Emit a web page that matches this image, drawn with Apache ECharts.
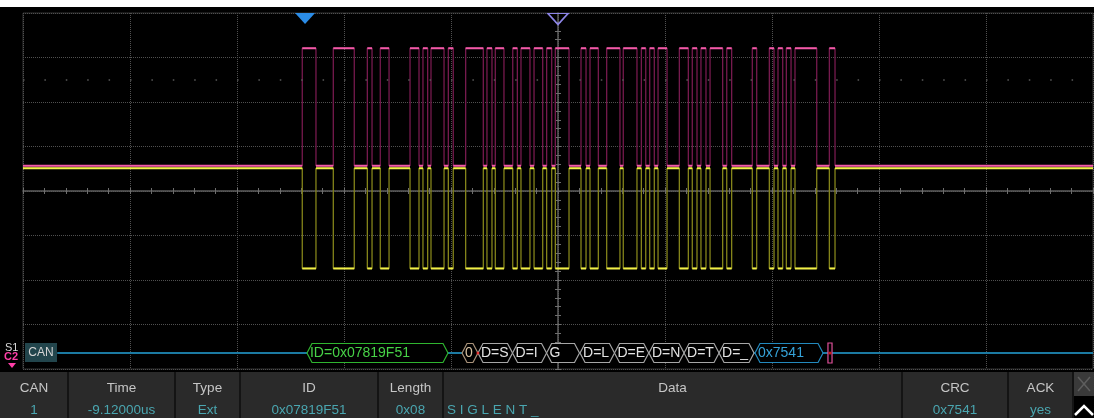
<!DOCTYPE html>
<html>
<head>
<meta charset="utf-8">
<script src="https://cdn.jsdelivr.net/npm/echarts@6/dist/echarts.min.js"></script>
<style>
html,body{margin:0;padding:0;background:#000;}
#c{width:1094px;height:418px;}
</style>
</head>
<body>
<div id="c"></div>
<script>
// ---- Data (time in horizontal divisions, trigger at 0; amplitude in vertical divisions) ----
const domStart = [-2.390,-2.100,-1.782,-1.661,-1.383,-1.262,-1.187,-1.025,-0.863,-0.664,-0.586,-0.423,-0.346,-0.224,-0.106,-0.025,0.215,0.299,0.455,0.610,0.779,0.857,0.935,1.134,1.255,1.336,1.421,1.577,1.816,1.975,2.056,2.134,2.215,2.536];
const domEnd   = [-2.262,-1.904,-1.738,-1.579,-1.299,-1.218,-1.065,-0.979,-0.698,-0.617,-0.505,-0.380,-0.262,-0.143,-0.059,0.103,0.262,0.377,0.579,0.738,0.820,0.900,1.019,1.218,1.299,1.383,1.539,1.623,1.857,2.019,2.100,2.178,2.418,2.589];
const pinkLevels   = [0.57, 3.21];   // recessive, dominant (C2)
const yellowLevels = [0.51, -1.74];  // recessive, dominant (C1)

const decodeLevel = -3.64;
const decodeLineStart = -4.68;
const packetStart = [-2.346,-0.897,-0.748,-0.425,-0.107,0.206,0.528,0.850,1.178,1.505,1.841];
const packetEnd   = [-1.028,-0.748,-0.425,-0.107,0.201,0.528,0.848,1.178,1.505,1.832,2.477];
const packetText  = ['ID=0x07819F51','0x08','D=S','D=I','G','D=L','D=E','D=N','D=T','D=_','0x7541'];
const packetKind  = ['id','dlc','data','data','data','data','data','data','data','data','crc'];
const ackSlot = [2.523, 2.561];
const errorDots = [-0.748, 2.542];

const triggerMarkers = [-2.364, 0];

const tableHeaders = ['CAN','Time','Type','ID','Length','Data','CRC','ACK'];
const tableValues  = ['1','-9.12000us','Ext','0x07819F51','0x08','S I G L E N T _','0x7541','yes'];

// ---- Build ----
function stepData(rec, dom){
  const p=[[-5,rec]];
  for(let i=0;i<domStart.length;i++){
    p.push([domStart[i],rec],[domStart[i],dom],[domEnd[i],dom],[domEnd[i],rec]);
  }
  p.push([5,rec]);
  return p;
}
function flatData(rec, dom){
  const p=[[-5,rec]];
  for(let i=0;i<domStart.length;i++){
    p.push([domStart[i],rec],[domStart[i],'-'],[domStart[i],dom],[domEnd[i],dom],[domEnd[i],'-'],[domEnd[i],rec]);
  }
  p.push([5,rec]);
  return p;
}
const kindStyle = {
  id:  {stroke:'#2fb52f', text:'#47d247'},
  dlc: {stroke:'#a8927a', text:'#d8c2a2'},
  data:{stroke:'#a6a6a6', text:'#e2e2e2'},
  crc: {stroke:'#2389bd', text:'#35a2d8'}
};
const FONT = '"Liberation Sans", Arial, sans-serif';

const chart = echarts.init(document.getElementById('c'), null, {renderer:'canvas'});

const colEdges = [0,68,175,240,378,443,902,1008,1073];
const graphics = [
  {type:'rect', shape:{x:0,y:0,width:1094,height:7}, style:{fill:'#ffffff'}, z:100},
  {type:'rect', shape:{x:0,y:372,width:1094,height:46}, style:{fill:'#2a2a2a'}, z:100},
];
for(let i=1;i<colEdges.length;i++){
  graphics.push({type:'rect', shape:{x:colEdges[i]-1,y:372,width:2,height:46}, style:{fill:'#141414'}, z:101});
}
for(let i=0;i<tableHeaders.length;i++){
  const cx=(colEdges[i]+colEdges[i+1])/2;
  graphics.push({type:'text', x:cx, y:388, style:{text:tableHeaders[i], fill:'#c6c6c6', font:'13.5px '+FONT, align:'center', verticalAlign:'middle'}, z:102});
  if(tableHeaders[i]==='Data'){
    graphics.push({type:'text', x:447, y:410, style:{text:tableValues[i], fill:'#4aa6b0', font:'13.5px '+FONT, align:'left', verticalAlign:'middle'}, z:102});
  } else {
    graphics.push({type:'text', x:cx, y:410, style:{text:tableValues[i], fill:'#4aa6b0', font:'13.5px '+FONT, align:'center', verticalAlign:'middle'}, z:102});
  }
}
graphics.push(
  {type:'rect', shape:{x:1074,y:372,width:20,height:24}, style:{fill:'#3a3a3a'}, z:102},
  {type:'line', shape:{x1:1078,y1:377,x2:1090,y2:391}, style:{stroke:'#5e5e5e', lineWidth:1.5}, z:103},
  {type:'line', shape:{x1:1090,y1:377,x2:1078,y2:391}, style:{stroke:'#5e5e5e', lineWidth:1.5}, z:103},
  {type:'rect', shape:{x:1074,y:396,width:20,height:22}, style:{fill:'#000'}, z:102},
  {type:'polyline', shape:{points:[[1075,415],[1084,406],[1093,415]]}, style:{stroke:'#ffffff', lineWidth:2.5, fill:null}, z:103},
  {type:'text', x:5, y:348, style:{text:'S1', fill:'#d8d8d8', font:'11px '+FONT, verticalAlign:'middle'}, z:103},
  {type:'text', x:4, y:357, style:{text:'C2', fill:'#ff3fa8', font:'bold 11px '+FONT, verticalAlign:'middle'}, z:104},
  {type:'polygon', shape:{points:[[8,363],[16,363],[12,368]]}, style:{fill:'#ff3fa8'}, z:104},
  {type:'rect', shape:{x:25,y:343,width:32,height:19}, style:{fill:'#22454c'}, z:103},
  {type:'text', x:41, y:352.5, style:{text:'CAN', fill:'#d4d4d4', font:'12px '+FONT, align:'center', verticalAlign:'middle'}, z:104}
);

const option = {
  backgroundColor:'#000',
  animation:false,
  grid:{left:23, right:1, top:13, bottom:49, show:true, borderColor:'#333333', borderWidth:1},
  xAxis:[
    {type:'value', min:-5, max:5, interval:1,
     axisLine:{show:true, onZero:true, lineStyle:{color:'#5e5e5e', width:1.5}},
     axisTick:{show:true, inside:true, length:3, lineStyle:{color:'#6e6e6e'}},
     minorTick:{show:true, splitNumber:5, length:3, lineStyle:{color:'#6e6e6e'}},
     axisLabel:{show:false},
     splitLine:{show:true, lineStyle:{color:'#505050', type:'dotted', width:1}}},
    {type:'value', min:-5, max:5, interval:1, position:'bottom', offset:-178,
     axisLine:{show:false, onZero:false},
     axisTick:{show:true, inside:false, length:3, lineStyle:{color:'#6e6e6e'}},
     minorTick:{show:true, splitNumber:5, length:3, lineStyle:{color:'#6e6e6e'}},
     axisLabel:{show:false}, splitLine:{show:false}}
  ],
  yAxis:[
    {type:'value', min:-4, max:4, interval:1,
     axisLine:{show:true, onZero:true, lineStyle:{color:'#5e5e5e', width:1.5}},
     axisTick:{show:true, inside:true, length:3, lineStyle:{color:'#6e6e6e'}},
     minorTick:{show:true, splitNumber:5, length:3, lineStyle:{color:'#6e6e6e'}},
     axisLabel:{show:false},
     splitLine:{show:true, lineStyle:{color:'#505050', type:'dotted', width:1}}},
    {type:'value', min:-4, max:4, interval:1, position:'left', offset:-535,
     axisLine:{show:false, onZero:false},
     axisTick:{show:true, inside:false, length:3, lineStyle:{color:'#6e6e6e'}},
     minorTick:{show:true, splitNumber:5, length:3, lineStyle:{color:'#6e6e6e'}},
     axisLabel:{show:false}, splitLine:{show:false}}
  ],
  series:[
    {type:'line', name:'decode', data:[[decodeLineStart,decodeLevel],[5,decodeLevel]], symbol:'none',
     lineStyle:{color:'#1b7aa2', width:2}, z:3,
     markLine:{silent:true, symbol:'none', label:{show:false},
       data:[{yAxis:2.5}], lineStyle:{color:'#5a5a5a', type:[1.5,19.9], width:1.5}},
     markPoint:{silent:true, label:{show:false},
       data:[
         {coord:[triggerMarkers[0],4], symbol:'triangle', symbolRotate:180, symbolSize:[20,11], symbolOffset:[0,5.5], itemStyle:{color:'#2b8ce6'}},
         {coord:[triggerMarkers[1],4], symbol:'triangle', symbolRotate:180, symbolSize:[20,11], symbolOffset:[0,6], itemStyle:{color:'rgba(0,0,0,0)', borderColor:'#8c84e6', borderWidth:1.5}}
       ]}},
    {type:'line', name:'C2 edges', data:stepData(pinkLevels[0],pinkLevels[1]), symbol:'none',
     lineStyle:{color:'#761a4e', width:1.3}, z:4},
    {type:'line', name:'C1 edges', data:stepData(yellowLevels[0],yellowLevels[1]), symbol:'none',
     lineStyle:{color:'#84841a', width:1.3}, z:4},
    {type:'line', name:'C2', data:flatData(pinkLevels[0],pinkLevels[1]), symbol:'none', connectNulls:false,
     lineStyle:{color:'#f25aa8', width:2}, z:5},
    {type:'line', name:'C1', data:flatData(yellowLevels[0],yellowLevels[1]), symbol:'none', connectNulls:false,
     lineStyle:{color:'#f2f048', width:2}, z:6},
    {type:'custom', name:'packets', z:8,
     data:packetStart.map((s,i)=>[s,packetEnd[i],decodeLevel,i]),
     renderItem:function(params, api){
       const s=api.coord([api.value(0),api.value(2)]);
       const e=api.coord([api.value(1),api.value(2)]);
       const i=api.value(3);
       const st=kindStyle[packetKind[i]];
       const h=9.5, c=Math.min(5,(e[0]-s[0])/2), y=s[1];
       return {type:'group', children:[
         {type:'polygon', shape:{points:[[s[0],y],[s[0]+c,y-h],[e[0]-c,y-h],[e[0],y],[e[0]-c,y+h],[s[0]+c,y+h]]},
          style:{fill:'#000', stroke:st.stroke, lineWidth:1.2}},
         {type:'text', x:s[0]+3, y:y+0.5,
          style:{text:packetText[i], fill:st.text, font:'14px '+FONT, verticalAlign:'middle',
                 width:Math.max(4,e[0]-s[0]-5), overflow:'truncate', ellipsis:''}}
       ]};
     }},
    {type:'custom', name:'ack', z:8,
     data:[[ackSlot[0],ackSlot[1],decodeLevel]],
     renderItem:function(params, api){
       const s=api.coord([api.value(0),api.value(2)]);
       const e=api.coord([api.value(1),api.value(2)]);
       return {type:'rect', shape:{x:s[0],y:s[1]-10,width:e[0]-s[0],height:20},
               style:{fill:'#000', stroke:'#e0509a', lineWidth:1.2}};
     }},
    {type:'scatter', name:'err', z:9, data:errorDots.map(x=>[x,decodeLevel]), symbolSize:3,
     itemStyle:{color:'#ff2020'}}
  ],
  graphic:graphics
};
chart.setOption(option);
</script>
</body>
</html>
